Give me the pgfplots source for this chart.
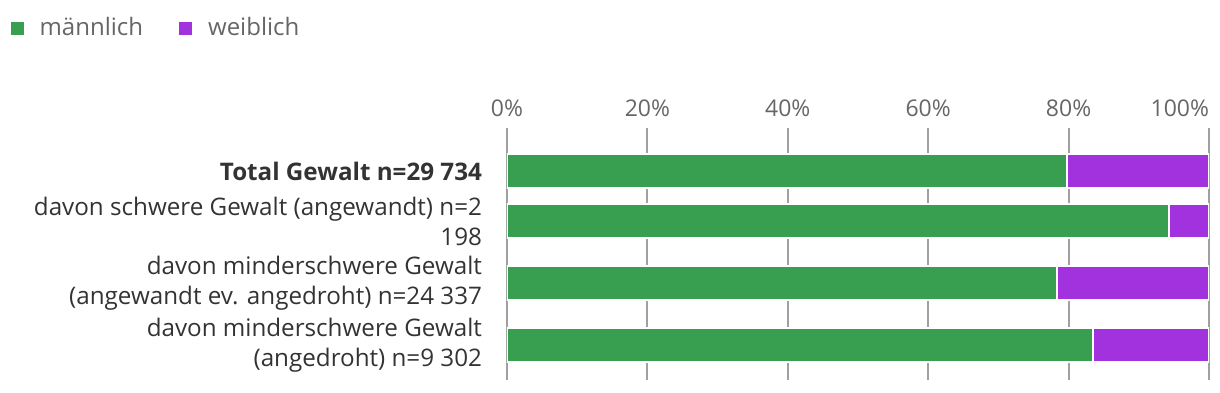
\documentclass[border=0pt]{standalone}
\usepackage{pgfplots}
\pgfplotsset{compat=1.18}
\usepackage{fontspec}
\setmainfont{Open Sans}
\definecolor{mgreen}{HTML}{389E50}
\definecolor{wpurple}{HTML}{A232DE}
\definecolor{txtdark}{HTML}{333333}
\definecolor{txtgrey}{HTML}{666666}
\definecolor{gridgrey}{HTML}{A0A0A0}
\begin{document}
\begin{tikzpicture}
\useasboundingbox (0pt,0pt) rectangle (610pt,-196pt);
\begin{axis}[
  at={(253.5pt,-64pt)}, anchor=north west,
  scale only axis, width=351pt, height=126pt,
  xbar stacked, bar width=34,
  xmin=0, xmax=100,
  ymin=128, ymax=380, y dir=reverse,
  xtick={0,20,40,60,80,100},
  xticklabels={0\%,20\%,40\%,60\%,80\%,\makebox[0pt][r]{100\%}},
  xticklabel pos=top,
  /pgf/number format/assume math mode=true,
  xticklabel style={font=\fontsize{11.5pt}{13pt}\selectfont, text=txtgrey, yshift=2pt},
  ytick={171,221,283,345},
  yticklabels={{\textbf{Total Gewalt n=29 734}},
    {davon schwere Gewalt (angewandt) n=2\\198},
    {davon minderschwere Gewalt\\(angewandt ev. angedroht) n=24 337},
    {davon minderschwere Gewalt\\(angedroht) n=9 302}},
  yticklabel style={font=\fontsize{12.1pt}{15pt}\selectfont, text=txtdark, align=right, xshift=-9pt},
  axis line style={draw=none},
  major tick length=0pt,
  xmajorgrids, grid style={gridgrey, line width=1pt},
  legend style={at={(rel axis cs:-0.719,1.472)}, anchor=north west, draw=none, fill=none,
    font=\fontsize{12pt}{14pt}\selectfont, text=txtgrey, legend columns=2,
    /tikz/every even column/.append style={column sep=15pt}},
  legend image code/.code={\fill[#1] (0pt,-3.75pt) rectangle (7.5pt,3.75pt); \path (12.5pt,0pt);},
]
\addplot[fill=mgreen, draw=white, line width=1pt] coordinates {(79.8,171) (94.3,221) (78.3,283) (83.5,345)};
\addplot[fill=wpurple, draw=white, line width=1pt] coordinates {(20.2,171) (5.7,221) (21.7,283) (16.5,345)};
\legend{männlich, weiblich}
\end{axis}
\end{tikzpicture}
\end{document}
